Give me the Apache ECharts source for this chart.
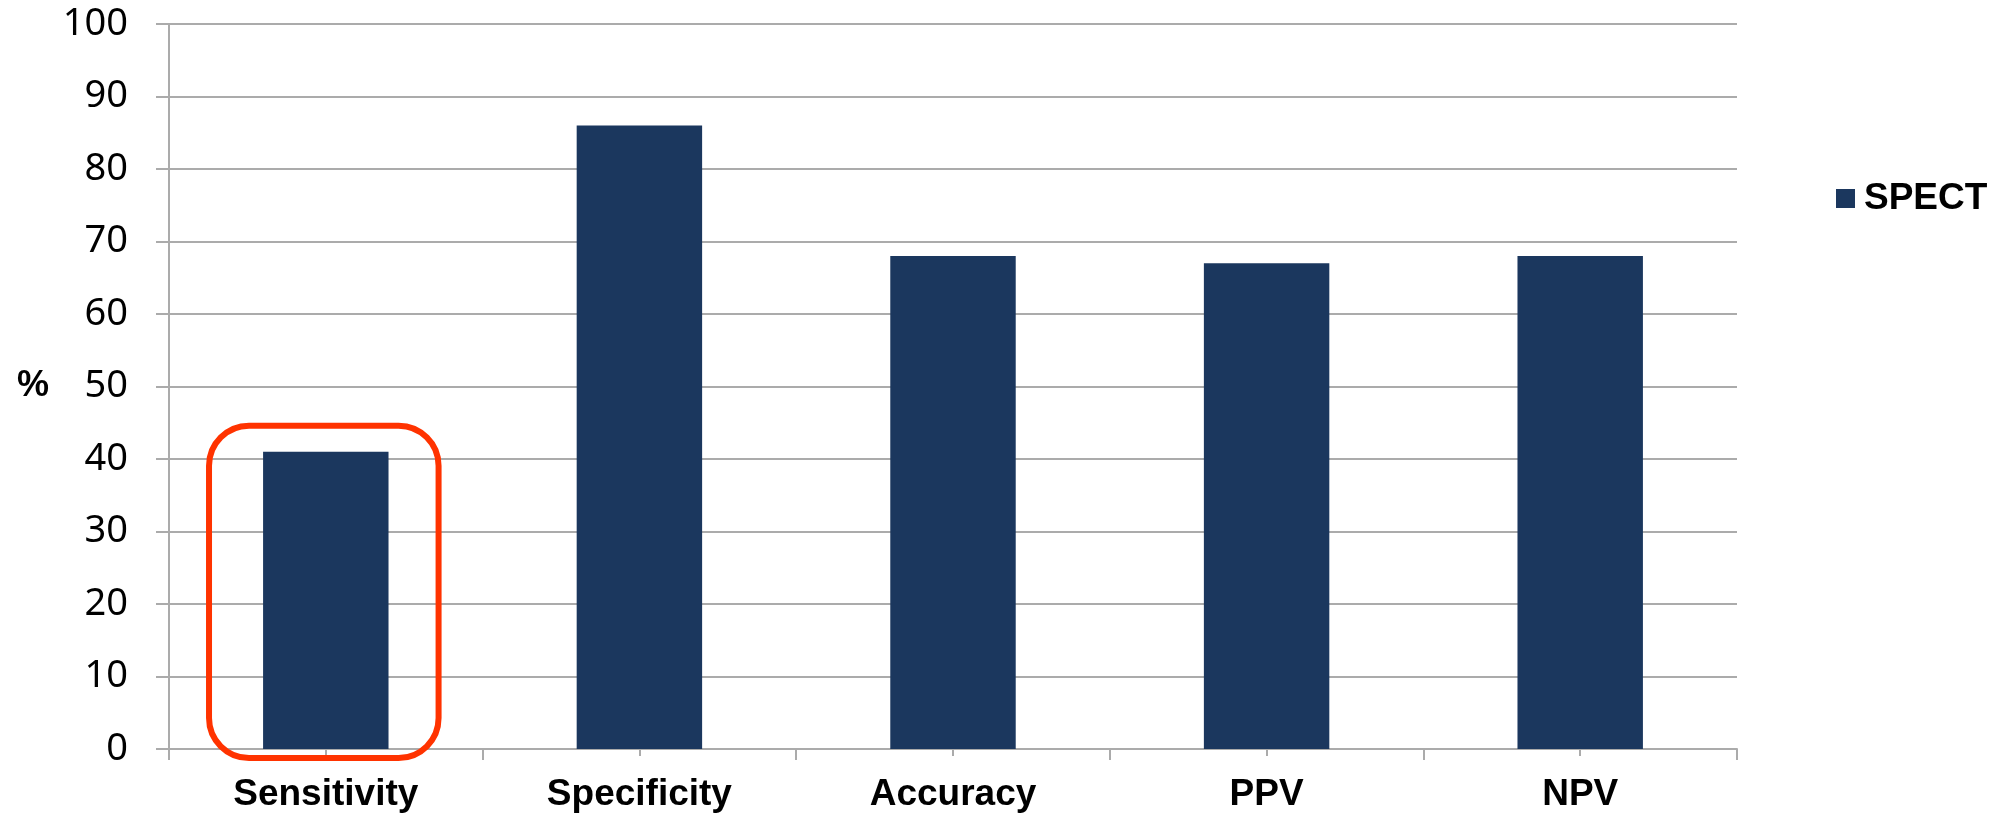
<!DOCTYPE html>
<html>
<head>
<meta charset="utf-8">
<style>
  html, body { margin: 0; padding: 0; background: #ffffff; }
  #chart { width: 2000px; height: 813px; }
</style>
<script src="https://cdn.jsdelivr.net/npm/echarts@6/dist/echarts.min.js"></script>
</head>
<body>
<div id="chart"></div>
<script>
// Diagnostic performance of SPECT (%)
const categories = ['Sensitivity', 'Specificity', 'Accuracy', 'PPV', 'NPV'];
const spectValues = [41, 86, 68, 67, 68];
const seriesName = 'SPECT';
const yTicks = [0, 10, 20, 30, 40, 50, 60, 70, 80, 90, 100];
const highlightedCategory = 'Sensitivity';

const gray = '#ababab';
const barColor = '#1b375e';
const boldFont = "'Liberation Sans', Arial, sans-serif";

const chart = echarts.init(document.getElementById('chart'), null, { renderer: 'canvas' });

chart.setOption({
  animation: false,
  backgroundColor: '#ffffff',
  grid: { left: 169, right: 263, top: 24, bottom: 64, containLabel: false },
  legend: {
    data: [seriesName],
    left: 1831,
    top: 175,
    icon: 'rect',
    itemWidth: 19,
    itemHeight: 19,
    itemGap: 10,
    textStyle: { fontFamily: boldFont, fontWeight: 'bold', fontSize: 37, color: '#000', padding: [0, 0, 0, 4] }
  },
  xAxis: [
    {
      type: 'category',
      data: categories,
      position: 'bottom',
      boundaryGap: true,
      axisLine: { show: true, lineStyle: { color: gray, width: 2 } },
      axisTick: { show: true, length: 11, lineStyle: { color: gray, width: 2 } },
      axisLabel: {
        margin: 27,
        fontFamily: boldFont,
        fontWeight: 'bold',
        fontSize: 37,
        color: '#000'
      },
      splitLine: { show: false }
    },
    {
      // short ticks under each bar centre
      type: 'category',
      data: categories,
      position: 'bottom',
      boundaryGap: true,
      axisLine: { show: false },
      axisTick: { show: true, alignWithLabel: true, length: 7, lineStyle: { color: gray, width: 2 } },
      axisLabel: { show: false },
      splitLine: { show: false }
    }
  ],
  yAxis: {
    type: 'value',
    min: yTicks[0],
    max: yTicks[yTicks.length - 1],
    interval: yTicks[1] - yTicks[0],
    name: '%',
    nameLocation: 'middle',
    nameRotate: 0,
    nameGap: 120,
    nameTextStyle: {
      fontFamily: boldFont,
      fontWeight: 'bold',
      fontSize: 36,
      color: '#000',
      padding: [16, 0, 0, 0]
    },
    axisLine: { show: true, lineStyle: { color: gray, width: 2 } },
    axisTick: { show: true, length: 13, lineStyle: { color: gray, width: 2 } },
    axisLabel: {
      margin: 41,
      fontFamily: "'Noto Sans', sans-serif",
      fontSize: 38,
      color: '#000'
    },
    splitLine: { show: true, lineStyle: { color: gray, width: 2 } }
  },
  series: [
    {
      name: seriesName,
      type: 'bar',
      xAxisIndex: 0,
      data: spectValues,
      barWidth: '40%',
      itemStyle: { color: barColor }
    }
  ]
});

// Rounded red frame around the highlighted bar, placed through the axis scales
function drawHighlight() {
  const idx = categories.indexOf(highlightedCategory);
  const value = spectValues[idx];
  const topPt = chart.convertToPixel({ seriesIndex: 0 }, [idx, value]);
  const basePt = chart.convertToPixel({ seriesIndex: 0 }, [idx, 0]);
  const nextPt = chart.convertToPixel({ seriesIndex: 0 }, [idx + 1, 0]);
  const band = nextPt[0] - basePt[0];
  const halfW = band * 0.366;
  const top = topPt[1] - 26;
  const bottom = basePt[1] + 9;
  chart.setOption({
    graphic: [{
      type: 'rect',
      z: 100,
      shape: { x: basePt[0] - halfW - 2, y: top, width: halfW * 2, height: bottom - top, r: 40 },
      style: { fill: 'none', stroke: '#ff3300', lineWidth: 6 }
    }]
  });
}
drawHighlight();
</script>
</body>
</html>
